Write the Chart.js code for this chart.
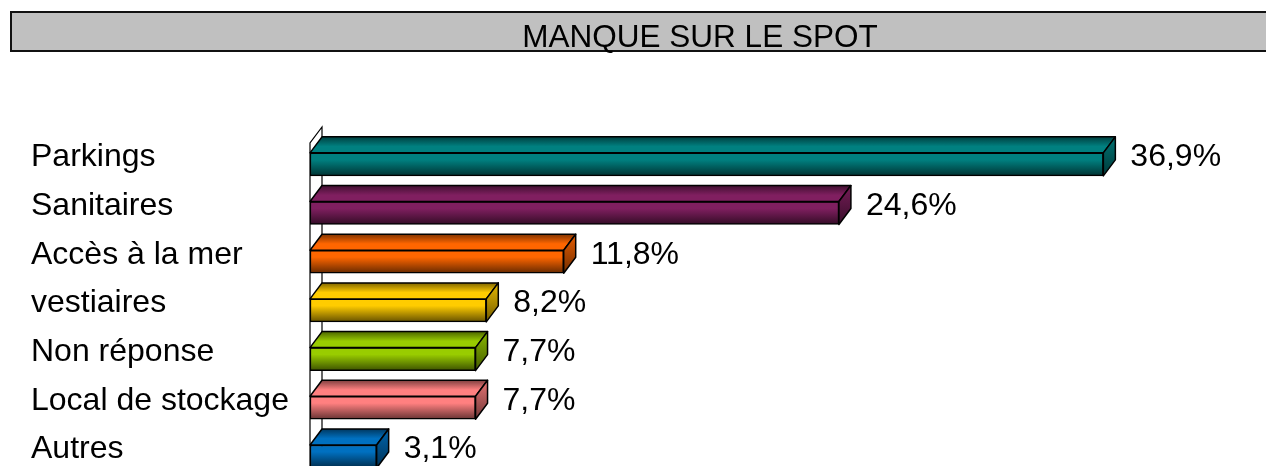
<!DOCTYPE html>
<html>
<head>
<meta charset="utf-8">
<script src="https://cdn.jsdelivr.net/npm/chart.js@4"></script>
<style>
  body { margin: 0; overflow: hidden; background: #fff; }
  #wrap { width: 1266px; height: 500px; }
</style>
</head>
<body>
<div id="wrap"><canvas id="myChart"></canvas></div>
<script>
var titre = "MANQUE SUR LE SPOT";
var labels = ["Parkings", "Sanitaires", "Accès à la mer", "vestiaires", "Non réponse", "Local de stockage", "Autres"];
var valeurs = [36.9, 24.6, 11.8, 8.2, 7.7, 7.7, 3.1];
var couleurs = ["#008080", "#801F60", "#FF6600", "#FFCC00", "#99CC00", "#FF8080", "#0070C0"];

// profondeur 3D
var DX = 12, DY = 16;
var police = '"Liberation Sans", Arial, sans-serif';

function shade(hex, f) {
    var n = parseInt(hex.slice(1), 16);
    var r = Math.round(((n >> 16) & 255) * f);
    var g = Math.round(((n >> 8) & 255) * f);
    var b = Math.round((n & 255) * f);
    return 'rgb(' + r + ',' + g + ',' + b + ')';
}

function format(v) {
    return v.toFixed(1).replace('.', ',') + '%';
}

var boite3d = {
    id: 'boite3d',
    beforeDraw: function(chart) {
        var ctx = chart.ctx;
        ctx.save();
        // bandeau du titre
        ctx.fillStyle = '#C0C0C0';
        ctx.fillRect(11, 12, 1300, 39);
        ctx.lineWidth = 2;
        ctx.strokeStyle = '#111';
        ctx.strokeRect(11, 12, 1300, 39);
        ctx.fillStyle = '#000';
        ctx.font = '31.5px ' + police;
        ctx.textAlign = 'center';
        ctx.textBaseline = 'alphabetic';
        ctx.fillText(titre, 700, 47);
        ctx.restore();
    },
    beforeDatasetsDraw: function(chart) {
        // le mur de gauche
        var ctx = chart.ctx, a = chart.chartArea;
        var top = a.top + 3;
        ctx.save();
        ctx.strokeStyle = '#000';
        ctx.lineWidth = 1.2;
        ctx.beginPath();
        ctx.moveTo(a.left, chart.height);
        ctx.lineTo(a.left, top);
        ctx.lineTo(a.left + DX, top - DY);
        ctx.lineTo(a.left + DX, chart.height);
        ctx.stroke();
        ctx.restore();
    },
    afterDatasetsDraw: function(chart) {
        var ctx = chart.ctx;
        var meta = chart.getDatasetMeta(0);
        ctx.save();
        ctx.strokeStyle = '#000';
        ctx.lineWidth = 1.5;
        ctx.lineJoin = 'round';
        meta.data.forEach(function(bar, i) {
            var x0 = bar.base, x1 = bar.x;
            var t = bar.y - bar.height / 2, b = bar.y + bar.height / 2;
            var col = couleurs[i];

            // dessus
            var g = ctx.createLinearGradient(0, t - DY, 0, t);
            g.addColorStop(0, shade(col, 0.5));
            g.addColorStop(0.6, col);
            g.addColorStop(1, col);
            ctx.beginPath();
            ctx.moveTo(x0, t);
            ctx.lineTo(x0 + DX, t - DY);
            ctx.lineTo(x1 + DX, t - DY);
            ctx.lineTo(x1, t);
            ctx.closePath();
            ctx.fillStyle = g;
            ctx.fill();
            ctx.stroke();

            // côté
            var g2 = ctx.createLinearGradient(0, t - DY, 0, b);
            g2.addColorStop(0, shade(col, 0.9));
            g2.addColorStop(1, shade(col, 0.45));
            ctx.beginPath();
            ctx.moveTo(x1, t);
            ctx.lineTo(x1 + DX, t - DY);
            ctx.lineTo(x1 + DX, b - DY);
            ctx.lineTo(x1, b);
            ctx.closePath();
            ctx.fillStyle = g2;
            ctx.fill();
            ctx.stroke();

            // valeur
            ctx.fillStyle = '#000';
            ctx.font = '32px ' + police;
            ctx.textAlign = 'left';
            ctx.textBaseline = 'middle';
            ctx.fillText(format(valeurs[i]), x1 + 27, bar.y - 7);
        });
        ctx.restore();
    }
};

var ctx = document.getElementById('myChart').getContext('2d');
var chart = new Chart(ctx, {
    type: 'bar',
    data: {
        labels: labels,
        datasets: [{
            data: valeurs,
            barThickness: 23,
            borderWidth: 1.5,
            borderColor: '#000',
            borderSkipped: false,
            backgroundColor: function(c) {
                var ch = c.chart;
                var col = couleurs[c.dataIndex];
                if (!ch.chartArea || !ch.scales.y) return col;
                var y = ch.scales.y.getPixelForValue(c.dataIndex);
                var g = ch.ctx.createLinearGradient(0, y - 11.5, 0, y + 11.5);
                g.addColorStop(0, col);
                g.addColorStop(0.3, col);
                g.addColorStop(1, shade(col, 0.4));
                return g;
            }
        }]
    },
    options: {
        indexAxis: 'y',
        responsive: true,
        maintainAspectRatio: false,
        animation: false,
        layout: { padding: { left: 31, top: 140, right: 96, bottom: 19 } },
        plugins: {
            legend: { display: false },
            tooltip: { enabled: false }
        },
        scales: {
            x: { display: false, min: 0, max: 40 },
            y: {
                grid: { display: false },
                border: { display: false },
                afterFit: function(s) { s.width = 279; },
                ticks: {
                    crossAlign: 'far',
                    labelOffset: -7,
                    padding: 0,
                    color: '#000',
                    font: { size: 32, family: police }
                }
            }
        }
    },
    plugins: [boite3d]
});
</script>
</body>
</html>
